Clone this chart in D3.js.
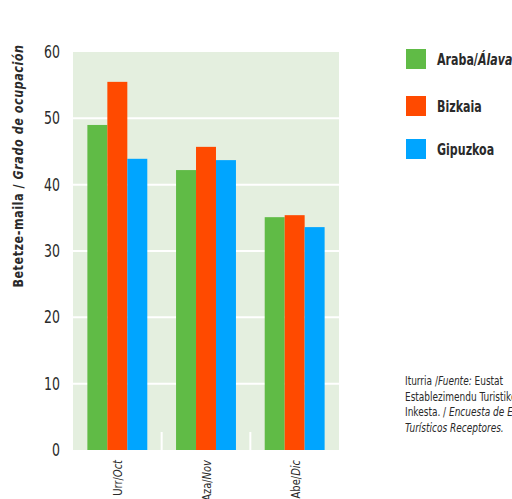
<!DOCTYPE html>
<html>
<head>
<meta charset="utf-8">
<script src="https://cdn.jsdelivr.net/npm/d3@7"></script>
<style>
  body { margin: 0; background: #fff; overflow: hidden; }
  svg { font-family: "DejaVu Sans Condensed", "Liberation Sans Narrow", sans-serif; }
</style>
</head>
<body>
<div id="chart"></div>
<script>
const months = ["Urr/|Oct", "Aza/|Nov", "Abe/|Dic"];
const series = ["Araba", "Bizkaia", "Gipuzkoa"];
const legendLabels = [["Araba/", "Álava"], ["Bizkaia", ""], ["Gipuzkoa", ""]];
const colors = ["#60bb46", "#ff4a00", "#00a5ff"];
const araba = [49.0, 42.2, 35.1];
const bizkaia = [55.5, 45.7, 35.4];
const gipuzkoa = [43.9, 43.7, 33.6];
const yTicks = [0, 10, 20, 30, 40, 50, 60];
const sourceLines = [
  [["Iturria /", false], ["Fuente:", true], [" Eustat", false]],
  [["Establezimendu Turistiko Hartzaileen", false]],
  [["Inkesta. / ", false], ["Encuesta de Establecimientos", true]],
  [["Turísticos Receptores.", true]]
];

const values = [araba, bizkaia, gipuzkoa];
const W = 512, H = 499;
const plot = {L: 73, R: 339, T: 52, B: 450};
const ink = "#2a2a2a";

const svg = d3.select("#chart").append("svg")
  .attr("width", W).attr("height", H);

const x = d3.scaleBand().domain(months).range([plot.L, plot.R]);
const xs = d3.scaleBand().domain(series).range([0, x.bandwidth()]).paddingOuter(0.72).paddingInner(0);
const y = d3.scaleLinear().domain([0, 60]).range([plot.B, plot.T]);

// narrow text: a group moved to (tx,ty), rotated, squeezed along the text
function narrow(tx, ty, rot, sx) {
  return svg.append("g")
    .attr("transform", "translate(" + tx + "," + ty + ") rotate(" + rot + ") scale(" + sx + ",1)");
}

// background
svg.append("rect")
  .attr("x", plot.L).attr("y", plot.T)
  .attr("width", plot.R - plot.L).attr("height", plot.B - plot.T)
  .attr("fill", "#e4efdf");

// grid
svg.selectAll(".grid").data(yTicks.slice(1, -1)).enter().append("line")
  .attr("x1", plot.L).attr("x2", plot.R)
  .attr("y1", d => y(d)).attr("y2", d => y(d))
  .attr("stroke", "#fff").attr("stroke-width", 2);

// bars
series.forEach(function(s, i) {
  svg.selectAll(".bar" + i).data(values[i]).enter().append("rect")
    .attr("x", (d, j) => x(months[j]) + xs(s))
    .attr("width", xs.bandwidth())
    .attr("y", d => y(d))
    .attr("height", d => y(0) - y(d))
    .attr("fill", colors[i]);
});

// category separators
svg.selectAll(".sep").data(months.slice(1)).enter().append("line")
  .attr("x1", d => x(d)).attr("x2", d => x(d))
  .attr("y1", plot.B - 18).attr("y2", plot.B)
  .attr("stroke", "#fff").attr("stroke-width", 2);

// y tick labels
yTicks.forEach(function(v) {
  narrow(60, y(v) + 6, 0, 0.82).append("text")
    .attr("text-anchor", "end")
    .attr("font-size", 17).attr("fill", ink)
    .text(v);
});

// x labels
months.forEach(function(m) {
  const parts = m.split("|");
  const t = narrow(x(m) + x.bandwidth() / 2 + 5, 460, -90, 0.85).append("text")
    .attr("text-anchor", "end")
    .attr("font-size", 13).attr("fill", ink);
  t.append("tspan").text(parts[0]);
  t.append("tspan").attr("font-style", "italic").text(parts[1]);
});

// y title
const yt = narrow(23, 166, -90, 0.92).append("text")
  .attr("text-anchor", "middle")
  .attr("font-size", 13.5).attr("font-weight", "bold").attr("fill", ink)
  .attr("letter-spacing", 0.6);
yt.append("tspan").text("Betetze-maila / ");
yt.append("tspan").attr("font-style", "italic").text("Grado de ocupación");

// legend
series.forEach(function(s, i) {
  const ly = [49, 96, 139][i];
  svg.append("rect").attr("x", 406).attr("y", ly)
    .attr("width", 20).attr("height", 20).attr("fill", colors[i]);
  const t = narrow(437, ly + 16, 0, 0.82).append("text")
    .attr("font-size", 15).attr("font-weight", "bold").attr("fill", ink);
  t.append("tspan").text(legendLabels[i][0]);
  t.append("tspan").attr("font-style", "italic").text(legendLabels[i][1]);
});

// source
sourceLines.forEach(function(line, i) {
  const t = narrow(405, 385 + i * 15.5, 0, 0.8).append("text")
    .attr("font-size", 12.5).attr("fill", ink);
  line.forEach(function(p) {
    t.append("tspan").attr("font-style", p[1] ? "italic" : "normal").text(p[0]);
  });
});
</script>
</body>
</html>
